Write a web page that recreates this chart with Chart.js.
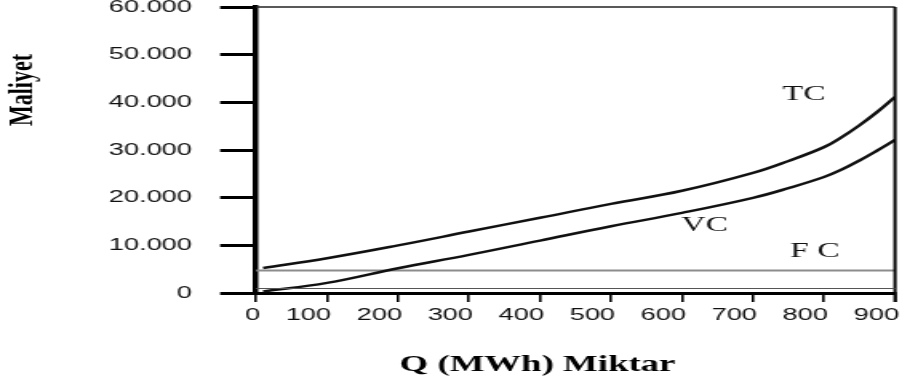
<!DOCTYPE html>
<html>
<head>
<meta charset="utf-8">
<title>Maliyet</title>
<script src="https://cdn.jsdelivr.net/npm/chart.js@4.4.1/dist/chart.umd.min.js"></script>
<style>
  html, body { margin: 0; padding: 0; background: #fff; overflow: hidden; }
  /* the chart is laid out narrow and then stretched sideways */
  #wrap {
    position: relative;
    width: 564px;
    height: 388px;
    transform: scaleX(1.59929);
    transform-origin: 0 0;
  }
  #costChart { display: block; }
</style>
</head>
<body>
<div id="wrap"><canvas id="costChart" width="564" height="388"></canvas></div>
<script>
// Q (MWh) and costs
const quantity = [10, 100, 200, 300, 400, 500, 600, 700, 750, 800, 825, 850, 875, 900];
const totalCost = [5250, 7300, 9990, 12890, 15780, 18700, 21440, 25190, 27700, 30600, 32700, 35200, 38000, 41120];
const variableCost = [300, 2120, 5190, 8000, 11000, 14000, 16810, 19960, 22000, 24330, 25900, 27800, 29900, 32100];
const fixedQ = [0, 900];
const fixedCost = [4700, 4700];

const yTickLabels = ['0', '10.000', '20.000', '30.000', '40.000', '50.000', '60.000'];

// curve names written next to the lines
const curveNames = ['TC', 'VC', 'F C'];
const nameQ = [772, 632, 787];
const nameCost = [41750, 14060, 8810];

const xTitle = 'Q (MWh) Miktar';
const yTitle = 'Maliyet';

const toPoints = (xs, ys) => xs.map((q, i) => ({ x: q, y: ys[i] }));

const frameAndLabels = {
    id: 'frameAndLabels',
    afterDraw(chart) {
        const { ctx, chartArea: a, scales: { x, y } } = chart;
        ctx.save();
        // top and right frame
        ctx.strokeStyle = '#222';
        ctx.lineWidth = 1.5;
        ctx.beginPath();
        ctx.moveTo(a.left, a.top);
        ctx.lineTo(a.right, a.top);
        ctx.stroke();
        ctx.strokeStyle = '#000';
        ctx.lineWidth = 2;
        ctx.beginPath();
        ctx.moveTo(a.right, a.top);
        ctx.lineTo(a.right, a.bottom + 9);
        ctx.stroke();
        // second thin rule just above the x axis
        ctx.strokeStyle = '#555';
        ctx.lineWidth = 1;
        ctx.beginPath();
        ctx.moveTo(a.left, a.bottom - 4.5);
        ctx.lineTo(a.right, a.bottom - 4.5);
        ctx.stroke();

        ctx.fillStyle = '#111';
        ctx.textAlign = 'center';
        ctx.textBaseline = 'middle';
        ctx.font = '21px "Liberation Serif", serif';
        curveNames.forEach((n, i) => {
            ctx.fillText(n, x.getPixelForValue(nameQ[i]), y.getPixelForValue(nameCost[i]));
        });

        // axis titles
        ctx.fillStyle = '#000';
        ctx.font = 'bold 23px "Liberation Serif", serif';
        ctx.fillText(xTitle, a.left + 176, 365);
        ctx.translate(14, 90);
        ctx.rotate(-Math.PI / 2);
        ctx.font = 'bold 22px "Liberation Serif", serif';
        ctx.fillText(yTitle, 0, 0);
        ctx.restore();
    }
};

const ctx = document.getElementById('costChart').getContext('2d');

const costChart = new Chart(ctx, {
    type: 'line',
    data: {
        datasets: [{
            label: 'TC',
            data: toPoints(quantity, totalCost),
            borderColor: '#111',
            borderWidth: 2.5,
            pointRadius: 0,
            tension: 0.4
        }, {
            label: 'VC',
            data: toPoints(quantity, variableCost),
            borderColor: '#111',
            borderWidth: 2.5,
            pointRadius: 0,
            tension: 0.4
        }, {
            label: 'FC',
            data: toPoints(fixedQ, fixedCost),
            borderColor: '#8c8c8c',
            borderWidth: 2,
            pointRadius: 0
        }]
    },
    options: {
        responsive: false,
        animation: false,
        devicePixelRatio: 1,
        layout: {
            padding: { top: 7, right: 4.4, left: 0, bottom: 0 }
        },
        scales: {
            x: {
                type: 'linear',
                min: 0,
                max: 900,
                border: { color: '#000', width: 3 },
                grid: {
                    drawOnChartArea: false,
                    color: '#000',
                    lineWidth: 1.6,
                    tickLength: 9
                },
                ticks: {
                    stepSize: 100,
                    align: 'end',
                    labelOffset: 2.5,
                    padding: 3,
                    maxRotation: 0,
                    color: '#111',
                    font: { family: '"Liberation Sans", Arial, sans-serif', size: 17 },
                    callback: (v) => String(v)
                },
                afterFit: (scale) => {
                    scale.height = 95;
                    scale.paddingLeft = 0;
                    scale.paddingRight = 0;
                }
            },
            y: {
                min: 0,
                max: 60000,
                border: { color: '#000', width: 3.5 },
                grid: {
                    drawOnChartArea: false,
                    color: '#000',
                    lineWidth: 3,
                    tickLength: 22.5
                },
                ticks: {
                    stepSize: 10000,
                    padding: 17.6,
                    color: '#111',
                    font: { family: '"Liberation Sans", Arial, sans-serif', size: 17 },
                    callback: (v, i) => yTickLabels[i]
                },
                afterFit: (scale) => {
                    scale.width = 160.1;
                    scale.paddingTop = 0;
                    scale.paddingBottom = 0;
                }
            }
        },
        plugins: {
            legend: { display: false },
            tooltip: { enabled: false }
        }
    },
    plugins: [frameAndLabels]
});
</script>
</body>
</html>
